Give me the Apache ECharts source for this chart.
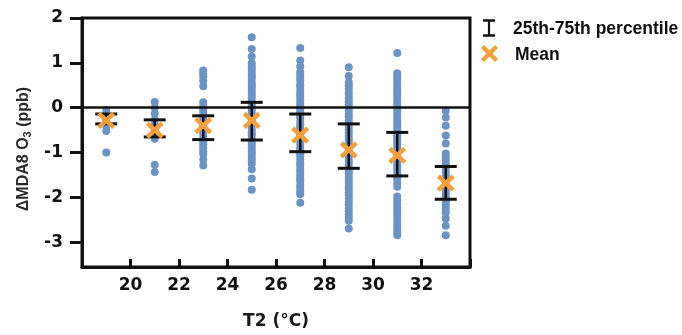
<!DOCTYPE html>
<html>
<head>
<meta charset="utf-8">
<script src="https://cdn.jsdelivr.net/npm/echarts@6/dist/echarts.min.js"></script>
<style>
html,body{margin:0;padding:0;background:#fff;}
#chart{width:682px;height:335px;}
</style>
</head>
<body>
<div id="chart"></div>
<script>
// ---- data ----
var temps = [19, 21, 23, 25, 27, 29, 31, 33];
var dots19 = [-0.05, -0.14, -0.22, -0.3, -0.4, -0.52, -1.0];
var dots21 = [0.13, 0.0, -0.13, -0.27, -0.38, -0.46, -0.53, -0.61, -0.69, -1.27, -1.43];
var dots23 = [0.83, 0.76, 0.69, 0.6, 0.48, 0.12, 0.04, -0.04, -0.11, -0.19, -0.26, -0.33, -0.4, -0.47, -0.54, -0.61, -0.68, -0.75, -0.82, -0.9, -0.97, -1.03, -1.16, -1.29];
var dots25 = [1.57, 1.31, 1.14, 0.99, 0.92, 0.86, 0.78, 0.71, 0.65, 0.57, 0.5, 0.44, 0.36, 0.29, 0.23, 0.15, 0.08, 0.02, -0.06, -0.13, -0.19, -0.27, -0.34, -0.4, -0.48, -0.55, -0.61, -0.69, -0.76, -0.82, -0.9, -0.97, -1.03, -1.11, -1.18, -1.25, -1.37, -1.58, -1.83];
var dots27 = [1.33, 1.05, 0.92, 0.79, 0.73, 0.66, 0.6, 0.52, 0.46, 0.38, 0.31, 0.25, 0.17, 0.1, 0.04, -0.04, -0.1, -0.18, -0.24, -0.32, -0.39, -0.45, -0.53, -0.59, -0.67, -0.73, -0.81, -0.88, -0.94, -1.02, -1.08, -1.16, -1.23, -1.29, -1.37, -1.43, -1.51, -1.58, -1.64, -1.72, -1.79, -1.86, -1.93, -2.12];
var dots29 = [0.9, 0.71, 0.57, 0.5, 0.43, 0.35, 0.29, 0.21, 0.14, 0.08, 0.0, -0.06, -0.14, -0.2, -0.28, -0.35, -0.41, -0.49, -0.55, -0.63, -0.7, -0.76, -0.84, -0.9, -0.98, -1.05, -1.11, -1.19, -1.25, -1.33, -1.4, -1.46, -1.54, -1.6, -1.68, -1.75, -1.81, -1.89, -1.95, -2.03, -2.1, -2.16, -2.24, -2.31, -2.38, -2.45, -2.52, -2.69];
var dots31 = [1.22, 0.77, 0.7, 0.63, 0.55, 0.49, 0.41, 0.34, 0.28, 0.2, 0.13, 0.07, -0.01, -0.08, -0.14, -0.22, -0.29, -0.35, -0.43, -0.5, -0.56, -0.64, -0.71, -0.77, -0.85, -0.92, -0.98, -1.06, -1.13, -1.19, -1.27, -1.34, -1.4, -1.48, -1.55, -1.61, -1.69, -1.76, -1.98, -2.06, -2.14, -2.22, -2.3, -2.38, -2.46, -2.54, -2.62, -2.7, -2.77, -2.84];
var dots33 = [-0.07, -0.22, -0.4, -0.62, -0.8, -1.02, -1.1, -1.18, -1.26, -1.34, -1.43, -1.51, -1.59, -1.67, -1.76, -1.84, -1.92, -2.0, -2.09, -2.17, -2.26, -2.34, -2.47, -2.63, -2.84];
var q75 = [-0.14, -0.27, -0.18, 0.12, -0.14, -0.36, -0.55, -1.31];
var q25 = [-0.36, -0.65, -0.71, -0.72, -0.98, -1.35, -1.52, -2.04];
var means = [-0.28, -0.5, -0.4, -0.28, -0.61, -0.94, -1.06, -1.68];
var xTickLabels = [20, 22, 24, 26, 28, 30, 32];
var yTicks = [-3, -2, -1, 0, 1, 2];
var seriesNames = ['25th-75th percentile', 'Mean'];

// ---- build ----
var X_MIN = 18, X_MAX = 34, Y_MIN = -3.55, Y_MAX = 2;
var allDots = [dots19, dots21, dots23, dots25, dots27, dots29, dots31, dots33];
var scatterData = [];
allDots.forEach(function (arr, i) {
  arr.forEach(function (v) { scatterData.push([temps[i], v]); });
});
var iqrData = temps.map(function (t, i) { return [t, q25[i], q75[i]]; });
var meanData = temps.map(function (t, i) { return [t, means[i]]; });

var BLUE = '#6d93c5';
var ORANGE = '#f2a03d';
var INK = '#111111';

var chart = echarts.init(document.getElementById('chart'), null, {renderer: 'canvas'});
chart.setOption({
  animation: false,
  backgroundColor: '#ffffff',
  grid: {left: 82, top: 18, right: 212, bottom: 64, show: true, borderColor: INK, borderWidth: 3},
  xAxis: {
    type: 'value', min: X_MIN, max: X_MAX, interval: 2,
    name: 'T2 (°C)', nameLocation: 'middle', nameGap: 46,
    nameTextStyle: {fontFamily: 'DejaVu Sans', fontWeight: 'bold', fontSize: 17, color: '#1a1a1a'},
    axisLine: {onZero: false, lineStyle: {color: INK, width: 3}},
    axisTick: {inside: true, length: 8, lineStyle: {color: INK, width: 3}},
    axisLabel: {
      margin: 10, fontFamily: 'DejaVu Sans', fontWeight: 'bold', fontSize: 17, color: INK,
      formatter: function (v) { return xTickLabels.indexOf(v) >= 0 ? String(v) : ''; }
    },
    splitLine: {show: false}
  },
  yAxis: {
    type: 'value', min: Y_MIN, max: Y_MAX,
    name: '{a|ΔMDA8 O}{s|3}{a| (ppb)}', nameLocation: 'middle', nameGap: 45,
    nameTextStyle: {
      padding: [0, 13, 0, 0],
      rich: {
        a: {fontFamily: 'Liberation Sans', fontWeight: 'bold', fontSize: 16, color: '#2a2a2a', lineHeight: 20},
        s: {fontFamily: 'Liberation Sans', fontWeight: 'bold', fontSize: 11, color: '#2a2a2a', lineHeight: 12, verticalAlign: 'bottom'}
      }
    },
    axisLine: {onZero: false, lineStyle: {color: INK, width: 3}},
    axisTick: {show: true, inside: false, length: 12, lineStyle: {color: INK, width: 3}, customValues: yTicks},
    axisLabel: {margin: 19, fontFamily: 'DejaVu Sans', fontWeight: 'bold', fontSize: 17, color: INK, customValues: yTicks},
    splitLine: {show: false}
  },
  graphic: [
    {type: 'line', shape: {x1: 489, y1: 20, x2: 489, y2: 36}, style: {stroke: INK, lineWidth: 2.2}},
    {type: 'line', shape: {x1: 483, y1: 20.5, x2: 495, y2: 20.5}, style: {stroke: INK, lineWidth: 2.5}},
    {type: 'line', shape: {x1: 483, y1: 35.5, x2: 495, y2: 35.5}, style: {stroke: INK, lineWidth: 2.5}},
    {type: 'text', left: 513, top: 20, style: {text: seriesNames[0], font: 'bold 17.5px "Liberation Sans"', fill: INK}},
    {type: 'line', shape: {x1: 482.5, y1: 46.5, x2: 496.5, y2: 60.5}, style: {stroke: ORANGE, lineWidth: 4.5}},
    {type: 'line', shape: {x1: 482.5, y1: 60.5, x2: 496.5, y2: 46.5}, style: {stroke: ORANGE, lineWidth: 4.5}},
    {type: 'text', left: 515, top: 46, style: {text: seriesNames[1], font: 'bold 17.5px "Liberation Sans"', fill: INK}}
  ],
  series: [
    {
      type: 'scatter', name: 'points', data: scatterData, symbolSize: 8, z: 2,
      itemStyle: {color: BLUE, opacity: 1}
    },
    {
      type: 'custom', name: seriesNames[0], data: iqrData, z: 3,
      renderItem: function (params, api) {
        var top = api.coord([api.value(0), api.value(2)]);
        var bot = api.coord([api.value(0), api.value(1)]);
        var hw = 11;
        return {type: 'group', children: [
          {type: 'line', shape: {x1: top[0], y1: top[1], x2: bot[0], y2: bot[1]}, style: {stroke: INK, lineWidth: 2.5}},
          {type: 'line', shape: {x1: top[0] - hw, y1: top[1], x2: top[0] + hw, y2: top[1]}, style: {stroke: INK, lineWidth: 3}},
          {type: 'line', shape: {x1: bot[0] - hw, y1: bot[1], x2: bot[0] + hw, y2: bot[1]}, style: {stroke: INK, lineWidth: 3}}
        ]};
      },
      markLine: {
        silent: true, symbol: ['none', 'none'], label: {show: false},
        lineStyle: {color: INK, width: 2.5, type: 'solid'},
        data: [{yAxis: 0}]
      }
    },
    {
      type: 'custom', name: seriesNames[1], data: meanData, z: 4,
      renderItem: function (params, api) {
        var p = api.coord([api.value(0), api.value(1)]);
        var hx = 7.5, hy = 7;
        return {type: 'group', children: [
          {type: 'line', shape: {x1: p[0] - hx, y1: p[1] - hy, x2: p[0] + hx, y2: p[1] + hy}, style: {stroke: ORANGE, lineWidth: 4.5}},
          {type: 'line', shape: {x1: p[0] - hx, y1: p[1] + hy, x2: p[0] + hx, y2: p[1] - hy}, style: {stroke: ORANGE, lineWidth: 4.5}}
        ]};
      }
    }
  ]
});
</script>
</body>
</html>
